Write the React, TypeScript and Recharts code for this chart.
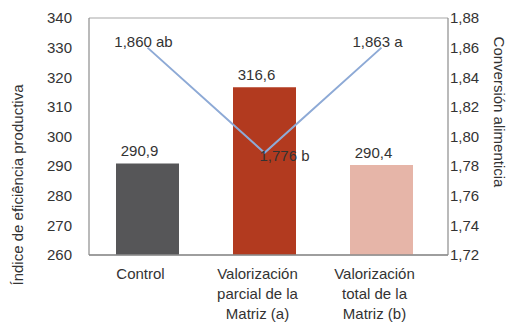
import { ComposedChart, Bar, Line, XAxis, YAxis, CartesianGrid, Cell, LabelList, Label } from 'recharts';

const categories = ['Control', 'Valorización parcial de la Matriz (a)', 'Valorización total de la Matriz (b)'];
const categoryLines = [['Control'], ['Valorización', 'parcial de la', 'Matriz (a)'], ['Valorización', 'total de la', 'Matriz (b)']];
const efficiency = [290.9, 316.6, 290.4];
const efficiencyLabels = ['290,9', '316,6', '290,4'];
const conversion = [1.86, 1.789, 1.86];
const conversionLabels = ['1,860 ab', '1,776 b', '1,863 a'];
const leftTicks = [260, 270, 280, 290, 300, 310, 320, 330, 340];
const rightTicks = [1.72, 1.74, 1.76, 1.78, 1.8, 1.82, 1.84, 1.86, 1.88];
const barColors = ['#565658', '#b23a1f', '#e6b5a8'];

const data = categories.map((name, i) => ({
  name,
  efficiency: efficiency[i],
  conversion: conversion[i],
  idx: i,
}));

const FONT = 'Liberation Sans, Arial, sans-serif';
const TXT = '#333333';

function CategoryTick(props: any) {
  const { x, y, payload } = props;
  const lines = categoryLines[payload.index] || [payload.value];
  return (
    <g>
      {lines.map((l, i) => (
        <text key={i} x={x - 7} y={y + 10 + i * 20} textAnchor="middle" dominantBaseline="central"
          fontSize={15} fontFamily={FONT} fill={TXT}>
          {l}
        </text>
      ))}
    </g>
  );
}

function BarValueLabel(props: any) {
  const { x, y, width, index } = props;
  return (
    <text x={x + width / 2 - 8} y={y - 7} textAnchor="middle" fontSize={15} fontFamily={FONT} fill={TXT}>
      {efficiencyLabels[index]}
    </text>
  );
}

function LineValueLabel(props: any) {
  const { x, y, index } = props;
  if (index === 1) {
    return (
      <text x={x - 5} y={y + 3} textAnchor="start" dominantBaseline="central" fontSize={15} fontFamily={FONT} fill={TXT}>
        {conversionLabels[index]}
      </text>
    );
  }
  return (
    <text x={x - 4} y={y - 1} textAnchor="middle" fontSize={15} fontFamily={FONT} fill={TXT}>
      {conversionLabels[index]}
    </text>
  );
}

export default function App() {
  return (
    <div style={{ position: 'absolute', left: 0, top: 0, background: '#fff' }}>
      <ComposedChart width={520} height={328} data={data} margin={{ top: 18, right: 0, bottom: 0, left: 0 }}>
        <CartesianGrid vertical={false} stroke="#a8a8a8" strokeWidth={1.2} />
        <XAxis
          dataKey="name"
          height={73}
          tick={<CategoryTick />}
          tickLine={false}
          axisLine={{ stroke: '#8c8c8c', strokeWidth: 1.5 }}
          interval={0}
          padding={{ left: 0, right: 8 }}
        />
        <YAxis
          yAxisId="left"
          orientation="left"
          domain={[260, 340]}
          ticks={leftTicks}
          width={89}
          tickLine={false}
          tickSize={0}
          tickMargin={17}
          axisLine={{ stroke: '#8c8c8c', strokeWidth: 1.2 }}
          tick={{ fontSize: 15, fontFamily: FONT, fill: TXT }}
          allowDataOverflow
        >
          <Label
            content={() => (
              <text x={17} y={185} transform="rotate(-90 17 185)" textAnchor="middle" dominantBaseline="central"
                fontSize={15} fontFamily={FONT} fill={TXT}>
                Índice de eficiência productiva
              </text>
            )}
          />
        </YAxis>
        <YAxis
          yAxisId="right"
          orientation="right"
          domain={[1.72, 1.88]}
          ticks={rightTicks}
          width={72}
          tickLine={false}
          tickSize={0}
          tickMargin={2}
          axisLine={{ stroke: '#8c8c8c', strokeWidth: 1.2 }}
          tickFormatter={(v: number) => v.toFixed(2).replace('.', ',')}
          tick={{ fontSize: 15, fontFamily: FONT, fill: TXT }}
          allowDataOverflow
        >
          <Label
            content={() => (
              <text x={499} y={112} transform="rotate(90 499 112)" textAnchor="middle" dominantBaseline="central"
                fontSize={15} fontFamily={FONT} fill={TXT}>
                Conversión alimenticia
              </text>
            )}
          />
        </YAxis>
        <Bar yAxisId="left" dataKey="efficiency" barSize={63} isAnimationActive={false}>
          {data.map((d, i) => (
            <Cell key={`cell-${i}`} fill={barColors[i]} />
          ))}
          <LabelList dataKey="efficiency" content={<BarValueLabel />} />
        </Bar>
        <Line
          yAxisId="right"
          dataKey="conversion"
          stroke="#8eaad6"
          strokeWidth={2}
          dot={false}
          activeDot={false}
          isAnimationActive={false}
        >
          <LabelList dataKey="conversion" content={<LineValueLabel />} />
        </Line>
      </ComposedChart>
    </div>
  );
}
